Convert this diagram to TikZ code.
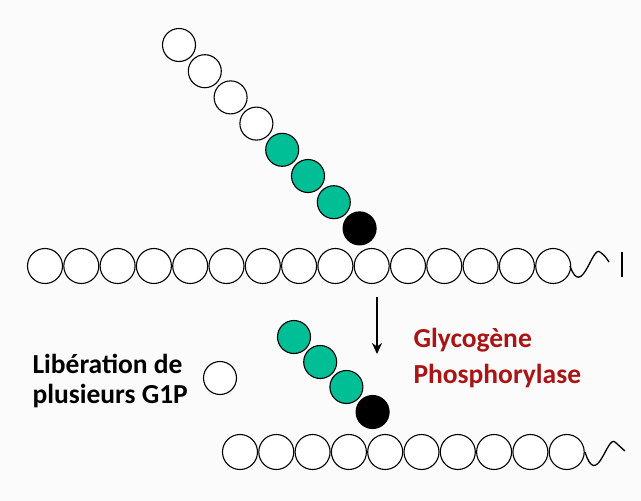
\documentclass[tikz,border=0pt]{standalone}
\usepackage{fontspec}
\setmainfont{Carlito}
\usetikzlibrary{arrows.meta}
\definecolor{gr}{RGB}{0,190,150}
\definecolor{dred}{RGB}{170,20,20}
\begin{document}
\begin{tikzpicture}[x=1pt,y=-1pt,
 bead/.style={circle,draw=black,line width=1.1pt,minimum size=35pt,inner sep=0pt,fill=white},
 gbead/.style={bead,fill=gr},
 bbead/.style={bead,fill=black},
 lbl/.style={font=\bfseries\fontsize{27.5}{30}\selectfont,align=left,anchor=west}]
\useasboundingbox[fill=white!97!gray] (0,0) rectangle (641,501);
% top main chain
\foreach \i in {0,...,14} \node[bead] (t\i) at (45+36.3*\i,266) {};
\draw[line width=1.3pt] (570,266) .. controls (582,300) and (592,245) .. (600,252) .. controls (605,256) .. (609,262);
\draw[line width=1.5pt] (622,252) -- (622,277);
% branch
\foreach \i/\s in {0/bead,1/bead,2/bead,3/bead,4/gbead,5/gbead,6/gbead,7/bbead}
  \node[\s,minimum size=33pt] (b\i) at (179+25.8*\i,45+26.2*\i) {};
% arrow
\coordinate (a1) at (377,297); \coordinate (a2) at (377,354);
\draw[line width=2pt,-{Stealth[length=11pt,width=10pt]}] (a1) -- (a2);
% bottom chain
\foreach \i in {0,...,9} \node[bead] (u\i) at (240+36.3*\i,452) {};
\foreach \i/\s in {0/gbead,1/gbead,2/gbead,3/bbead}
  \node[\s,minimum size=33pt] (c\i) at (294+26.2*\i,337+25*\i) {};
\draw[line width=1.3pt] (585,452) .. controls (597,490) and (607,435) .. (615,442) .. controls (620,446) .. (625,451);
\node[bead,minimum size=33pt] (g) at (220,378) {};
\node[lbl] (l1) at (29,381) {Libération de\\plusieurs G1P};
\node[lbl,text=dred,font=\bfseries\fontsize{27.5}{36}\selectfont] (l2) at (410,358) {Glycogène\\Phosphorylase};
\end{tikzpicture}
\end{document}
